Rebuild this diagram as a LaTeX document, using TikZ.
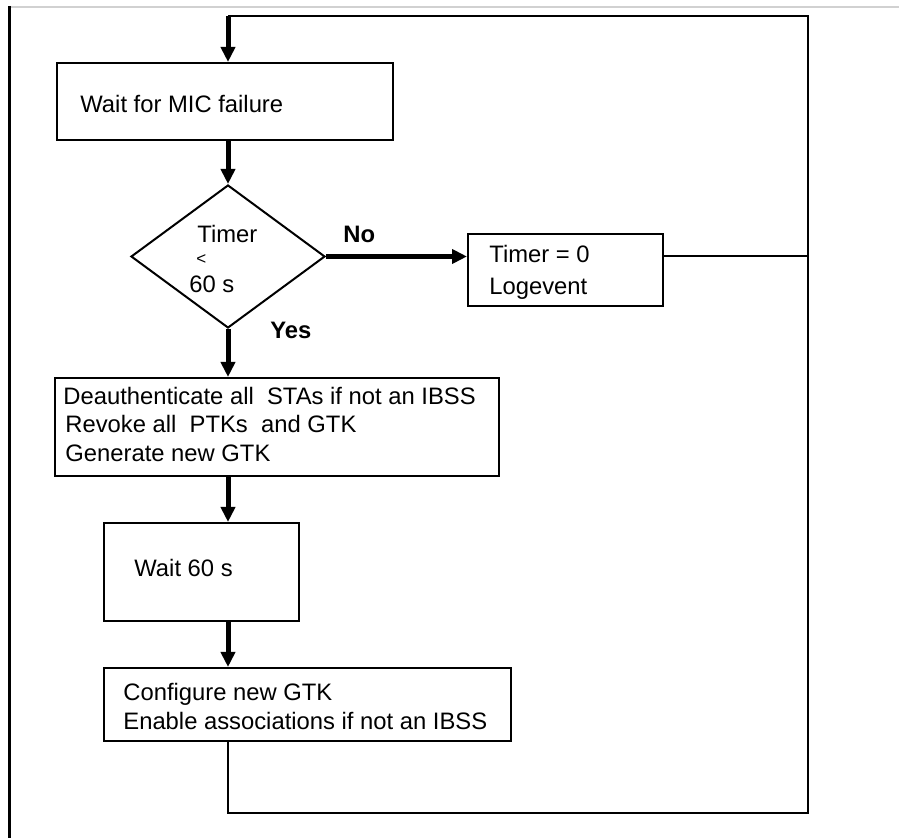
\documentclass[tikz,border=0pt]{standalone}
\usepackage{fontspec}
\setmainfont{Liberation Sans}
\usetikzlibrary{arrows.meta,shapes.geometric,fit}
\begin{document}
\begin{tikzpicture}[x=0.5pt,y=-0.5pt,
  every node/.style={font=\fontsize{11.9}{14}\selectfont},
  stepbox/.style={draw=black, line width=1pt, inner sep=0pt},
  txt/.style={anchor=base west, inner sep=0pt},
  lbl/.style={anchor=base west, inner sep=0pt, font=\fontsize{11.9}{14}\selectfont\bfseries},
  flow/.style={line width=2.5pt, -{Triangle[length=7.5pt,width=7pt]}},
  loopline/.style={line width=1.3pt, line join=miter},
  thinline/.style={line width=1pt}
]
\useasboundingbox (0,0) rectangle (899,838);

% page frame
\draw[black!18, line width=0.8pt] (9,7) -- (899,7);
\draw[line width=1.5pt] (9,6) -- (9,838);

% main column axis and loop corners
\coordinate (axis) at (228,0);
\coordinate (cTL) at (228,16);
\coordinate (cTR) at (808,16);
\coordinate (cBR) at (808,813);
\coordinate (cBL) at (228,813);

% boxes
\node[stepbox, fit={(57,63) (393,140)}] (b1) {};
\node[stepbox, diamond, minimum width=97pt, minimum height=71.5pt] (dec) at (228,256.5) {};
\node[stepbox, fit={(468,234) (663,306)}] (b2) {};
\node[stepbox, fit={(55,378) (499,476)}] (b3) {};
\node[stepbox, fit={(104,523) (299,621)}] (b4) {};
\node[stepbox, fit={(104,668) (511,741)}] (b5) {};

% texts
\node[txt] (t1) at (80,113) {Wait for MIC failure};
\node[txt] (td1) at (197,243) {Timer};
\node[txt, font=\fontsize{8.5}{10}\selectfont] (td2) at (196,265) {<};
\node[txt] (td3) at (189,293) {60 s};
\node[lbl] (no) at (343,243) {No};
\node[lbl] (yes) at (270,339) {Yes};
\node[txt] (t2a) at (489,263) {Timer = 0};
\node[txt] (t2b) at (489,295) {Logevent};
\node[txt] (t3a) at (63,405) {Deauthenticate all\ \ STAs if not an IBSS};
\node[txt] (t3b) at (65,433) {Revoke all\ \ PTKs\ \ and GTK};
\node[txt] (t3c) at (65,462) {Generate new GTK};
\node[txt] (t4) at (134,577) {Wait 60 s};
\node[txt] (t5a) at (123,701) {Configure new GTK};
\node[txt] (t5b) at (123,729) {Enable associations if not an IBSS};

% return loop
\draw[loopline] (b5.south -| axis) -- (cBL) -- (cBR) -- (cTR) -- (cTL);
\draw[flow] (cTL) -- (b1.north -| axis);

% main flow
\draw[flow] (b1.south -| axis) -- (dec.north);
\draw[flow] (dec.south) -- (b3.north -| axis);
\draw[flow] (b3.south -| axis) -- (b4.north -| axis);
\draw[flow] (b4.south -| axis) -- (b5.north -| axis);

% "No" branch
\draw[flow] (dec.east) -- (dec.east -| b2.west);
\draw[thinline] (b2.east |- dec.east) -- (dec.east -| cTR);
\end{tikzpicture}
\end{document}
